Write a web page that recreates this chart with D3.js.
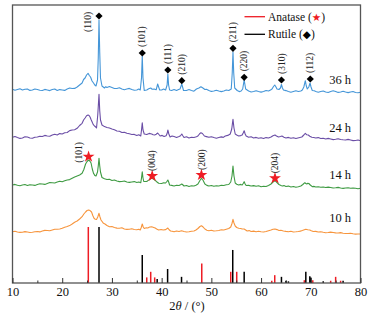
<!DOCTYPE html>
<html><head><meta charset="utf-8">
<script src="https://cdn.jsdelivr.net/npm/d3@7"></script>
<style>body{margin:0;background:#fff}svg{display:block}</style>
</head><body>
<svg id="chart" width="378" height="319"></svg>
<script>
// ---------- data (2θ in degrees, intensity in a.u., patterns already stacked) ----------
const sampleLabels = ["36 h", "24 h", "14 h", "10 h"];
const sampleColors = ["#4596d8", "#6b4ea6", "#3f9b43", "#f7953d"];

const pattern36h = [[10,193.7],[10.5,192.8],[11,193.5],[11.5,194.2],[12,193],[12.5,193.8],[13,194],[13.5,192.6],[14,193],[14.5,194],[15,193.5],[15.5,192.8],[16,192.5],[16.5,193.6],[17,193],[17.5,192.4],[18,193.5],[18.5,194],[19,192.5],[19.5,193.4],[20,193],[20.5,192.6],[21,194],[21.5,195],[22,194.5],[22.5,194.6],[23,196],[23.5,198],[24,200],[24.3,203.5],[24.6,205],[24.9,208],[25.2,209.7],[25.45,207.5],[25.7,206],[26,202],[26.3,200],[26.55,198],[26.8,197],[27.1,203],[27.25,225],[27.4,263],[27.55,230],[27.7,205],[28,197],[28.25,196],[28.5,195],[28.75,196.3],[29,195.5],[29.5,196.5],[30,195.5],[30.5,194.5],[31,194.5],[31.5,195.2],[32,194],[32.5,193.3],[33,194],[33.5,194.6],[34,193.5],[34.5,192.8],[35,193],[35.4,194],[35.7,193],[35.95,205],[36.1,227],[36.25,205],[36.5,192.5],[37,193],[37.4,194.2],[37.8,195],[38.1,193.8],[38.5,194],[38.9,193.2],[39.2,199],[39.6,193],[40,193],[40.4,194],[40.8,193],[41.1,198],[41.25,209],[41.4,198],[41.6,193],[42,192.5],[42.5,193.5],[43,192.5],[43.4,193.4],[43.7,194],[44.05,199],[44.4,192.5],[45,192.5],[45.5,193.4],[46,192.5],[46.5,191.8],[47,194],[47.5,195],[47.9,196.3],[48.3,195],[48.7,193.5],[49,193.8],[49.5,192.5],[50,191.6],[50.5,192],[51,192.8],[51.5,192],[52,191.4],[52.5,192],[53,193],[53.5,192.5],[54,194],[54.2,210],[54.35,231],[54.5,210],[54.7,195],[55.2,192.5],[55.6,191.4],[56,192],[56.3,194],[56.6,203],[56.9,194],[57.2,193],[57.5,192],[58,191],[58.5,191.5],[59,192.3],[59.5,191.5],[60,190.9],[60.5,191.5],[61,192.5],[61.5,192],[61.9,193],[62.2,194],[62.5,196.5],[62.75,198],[63,196],[63.2,194],[63.6,193.5],[63.9,195],[64.1,198.5],[64.3,195],[64.5,193],[65,192.4],[65.5,191.5],[66,190.8],[66.5,191.5],[67,192.2],[67.5,191.5],[68,192],[68.3,193],[68.6,196],[68.9,202.3],[69.1,197],[69.3,194],[69.6,196],[69.85,200],[70.05,196],[70.3,192.5],[70.7,192.2],[71,191.5],[71.5,190.8],[72,191.5],[72.5,192],[73,191],[73.5,190.5],[74,191.5],[74.5,192.2],[75,191.5],[75.5,190.6],[76,191],[76.5,191.7],[77,191],[77.5,190.4],[78,191],[78.5,191.5],[79,190.5],[79.5,190.2],[80,190.7]];

const pattern24h = [[10,145.7],[10.5,146.5],[11,145.5],[11.5,144.6],[12,145],[12.5,146.2],[13,146],[13.5,145],[14,144.7],[14.5,145.8],[15,146],[15.5,146.8],[16,146.5],[16.5,147.6],[17,147],[17.5,146.8],[18,148],[18.5,148.8],[19,148],[19.5,149.4],[20,149],[20.5,150.2],[21,150.5],[21.5,152.4],[22,153],[22.5,153.2],[23,154.7],[23.5,157.5],[24,159.7],[24.3,163],[24.6,165],[24.9,167.2],[25.2,168],[25.4,167.5],[25.6,166],[25.8,163.5],[26,161.3],[26.25,158.4],[26.5,157],[26.7,156.2],[26.9,155],[27.15,168],[27.4,188.7],[27.55,172],[27.7,163],[28,158],[28.5,156.4],[29,155.5],[29.5,155],[30,154],[30.5,153.2],[31,152],[31.5,151.8],[32,150.5],[32.5,150.8],[33,149.7],[33.5,149.2],[34,148.5],[34.5,148.6],[35,147.5],[35.4,148.2],[35.8,147],[35.95,153],[36.1,160.3],[36.25,153],[36.5,149],[37,148.5],[37.5,149.6],[38,149],[38.3,148.2],[38.6,148],[38.9,148.8],[39.2,150],[39.7,147],[40.1,147.6],[40.5,146.5],[40.9,147.2],[41.1,149.5],[41.25,153],[41.45,149],[41.7,146],[42.1,147],[42.5,146.5],[43,145.6],[43.5,146.5],[43.8,147.3],[44.05,149],[44.3,147],[44.5,145.5],[45,146.2],[45.5,145],[46,145.8],[46.5,145.5],[47,146.2],[47.3,147],[47.6,149],[47.9,150.3],[48.2,149.5],[48.6,147],[49,146.4],[49.5,145.7],[50,146.3],[50.5,145.5],[51,144.8],[51.5,145.5],[52,146.1],[52.4,145.6],[52.8,147],[53.3,147.6],[53.8,149],[54.1,154],[54.35,163.7],[54.55,155],[54.8,149],[55.1,148],[55.5,147],[55.9,147.4],[56.2,148],[56.4,150],[56.6,152.3],[56.8,149],[57,147],[57.5,145.7],[58,146.2],[58.5,145],[59,145.6],[59.5,144.7],[60,145.3],[60.5,144.5],[61,145.4],[61.5,145],[62,146],[62.4,147.3],[62.8,148],[63.1,147],[63.5,146],[63.9,146.5],[64.2,147],[64.6,145.8],[65,145],[65.5,145.6],[66,144.7],[66.5,145.3],[67,144.5],[67.6,145.3],[68.2,146],[68.6,148],[68.9,149.7],[69.2,148.2],[69.5,148],[69.8,146.8],[70.2,145.7],[70.6,145.5],[71,145],[71.5,145.4],[72,144.5],[72.5,144.8],[73,144],[73.5,144.6],[74,144],[74.5,143.4],[75,143.7],[75.5,144.2],[76,143.5],[76.5,143.2],[77,143],[77.5,143.6],[78,143],[78.5,142.4],[79,142.5],[79.5,143],[80,142.3]];

const pattern14h = [[10,98],[10.5,98.6],[11,97.7],[11.5,97.3],[12,98],[12.5,98.5],[13,97.5],[13.5,98.3],[14,98],[14.5,97.6],[15,98.5],[15.5,99.2],[16,99],[16.5,98.6],[17,99.5],[17.5,100.4],[18,100.3],[18.5,100],[19,101],[19.5,101.8],[20,101.3],[20.5,102.2],[21,103],[21.5,103.4],[22,104.7],[22.5,106],[23,107],[23.5,108],[24,109.7],[24.35,113.5],[24.7,119],[25,121.5],[25.3,123],[25.55,122],[25.8,120],[26.05,114],[26.3,109.7],[26.55,107.6],[26.8,107],[27.1,111],[27.25,117],[27.4,124.7],[27.55,117],[27.7,111],[28,105.5],[28.5,104.2],[29,103.5],[29.5,103.7],[30,102.5],[30.5,103],[31,102],[31.5,101.4],[32,101.5],[32.5,102],[33,101],[33.5,100.6],[34,101],[34.5,101.4],[35,100.5],[35.4,101],[35.8,100.3],[35.95,105],[36.1,111.3],[36.25,105],[36.4,101.5],[37,101.5],[37.3,102.6],[37.6,103.5],[37.85,104.8],[38.1,104.5],[38.35,104],[38.6,103],[39,101.3],[39.4,99.7],[40,99.5],[40.4,100.2],[40.8,100],[41.05,101.5],[41.25,103],[41.45,100.5],[41.6,98],[42,97.6],[42.5,97],[43,97.8],[43.5,97.5],[43.8,98.2],[44.05,99],[44.3,98],[44.5,97],[45,97.5],[45.5,96.5],[46,97.2],[46.5,97],[46.9,97.8],[47.3,99],[47.7,102.5],[48,104.7],[48.3,103],[48.7,99],[49.1,97.6],[49.5,97],[50,97.5],[50.5,96.7],[51,97.3],[51.5,97],[52,97.8],[52.5,97.5],[53,98.2],[53.5,98.5],[53.9,101],[54.15,107],[54.35,117],[54.55,107],[54.8,100],[55.1,98.8],[55.5,98],[55.9,98.6],[56.2,98],[56.4,99.5],[56.6,101.3],[56.8,99],[57,97.5],[57.5,97.6],[58,97],[58.5,97.4],[59,96.7],[59.5,97.2],[60,96.3],[60.5,96.8],[61,96.5],[61.5,97.6],[62,99],[62.4,101],[62.8,102.3],[63.2,100.5],[63.6,98.5],[64,97.6],[64.3,97],[64.6,97.4],[65,96.5],[65.5,96.9],[66,96],[66.5,96.5],[67,95.7],[67.5,96.2],[68,97],[68.4,98.5],[68.8,100.3],[69,99.5],[69.2,99],[69.4,99.8],[69.6,99.5],[69.9,98],[70.3,96.3],[70.6,96.6],[71,96],[71.5,96.3],[72,95.7],[72.5,96],[73,95.5],[73.5,95.9],[74,95.5],[74.5,95],[75,95.2],[75.5,95.6],[76,95],[76.5,94.6],[77,95],[77.5,95.3],[78,94.7],[78.5,94.9],[79,94.7],[79.5,94.3],[80,94.7]];

const pattern10h = [[10,51.3],[10.5,51.8],[11,51],[11.5,50.6],[12,50.7],[12.5,51.4],[13,51],[13.5,50.5],[14,50.7],[14.5,51.2],[15,51.5],[15.5,51.1],[16,52],[16.5,52.6],[17,52.5],[17.5,52.2],[18,53],[18.5,53.8],[19,53.7],[19.5,54],[20,54.7],[20.5,55.8],[21,56.5],[21.5,57.4],[22,59],[22.5,60.8],[23,62],[23.5,64],[24,66.3],[24.35,69],[24.7,71],[25,72.5],[25.3,73],[25.6,72.4],[25.9,71],[26.15,67.5],[26.4,64.7],[26.65,63.8],[26.9,63.5],[27.15,66],[27.4,69.7],[27.6,66],[27.8,63],[28.3,59.7],[28.6,59],[29,57.5],[29.5,56.3],[30,56.5],[30.5,55.5],[31,54.9],[31.5,54.7],[32,55.2],[32.5,54],[33,53.6],[33.5,53.7],[34,54.2],[34.5,53.5],[35,53.2],[35.4,53.8],[35.7,53],[35.9,55.5],[36.1,59],[36.3,56],[36.5,54.5],[36.9,55.2],[37.2,55],[37.6,56],[38,56.3],[38.4,55.6],[38.7,55],[39,54],[39.4,53],[39.9,53.5],[40.3,53],[40.8,53.4],[41.05,54.3],[41.25,55],[41.5,53.2],[41.8,52],[42.1,51.8],[42.5,51.3],[43,52],[43.5,51.5],[44,52.2],[44.5,51.5],[45,51],[45.5,51.3],[46,51.8],[46.5,52],[46.9,53],[47.3,54.5],[47.7,56.5],[48,57.3],[48.3,56.2],[48.7,54],[49.1,52.8],[49.5,52.3],[50,52.8],[50.5,52],[51,52.2],[51.5,52.5],[52,53.2],[52.5,53],[53,53.8],[53.5,54.5],[53.9,56],[54.15,59.5],[54.35,63.7],[54.55,60],[54.8,57],[55.1,55.5],[55.5,54.7],[55.9,54.5],[56.2,54],[56.6,54],[56.9,53],[57.2,52],[57.6,52.4],[58,51.5],[58.5,51.9],[59,51.3],[59.5,51.8],[60,51.3],[60.5,51],[61,51.5],[61.5,52.3],[62,53],[62.4,53.8],[62.8,54],[63.2,53.4],[63.6,52.5],[64,52.7],[64.5,52],[65,51.6],[65.5,51.3],[66,51.7],[66.5,51],[67,51.2],[67.5,51.5],[67.9,51.9],[68.3,52.5],[68.7,53.2],[69,53.7],[69.4,53.2],[69.8,53],[70.1,52.3],[70.5,51.5],[71,51.6],[71.5,51],[72,51.3],[72.5,50.7],[73,50.2],[73.5,50.5],[74,50.9],[74.5,50.5],[75,50.1],[75.5,50],[76,50.4],[76.5,49.8],[77,49.5],[77.5,49.5],[78,49.8],[78.5,49.2],[79,48.9],[79.5,49],[80,49]];

const patterns = [pattern36h, pattern24h, pattern14h, pattern10h];
const labelLevels = [199, 151, 104, 61];   // intensity level of the sample labels

// reference sticks (relative intensity, %)
const anataseTheta = [25.25, 37.0, 37.8, 38.6, 48.07, 53.9, 55.1, 62.15, 62.75, 68.7, 70.4, 74.0, 75.0, 76.0];
const anataseInt   = [100, 10, 20, 10, 35, 20, 20, 4, 14, 5, 5, 4, 11, 4];
const rutileTheta  = [27.4, 36.1, 39.1, 41.2, 44.0, 54.3, 56.6, 64.1, 65.0, 65.5, 69.0, 69.8, 70.0, 72.5, 76.5];
const rutileInt    = [100, 50, 7, 25, 11, 59, 20, 11, 4, 3, 20, 12, 10, 3, 4];

// peak markers
const rutileHkl    = ["(110)", "(101)", "(111)", "(210)", "(211)", "(220)", "(310)", "(112)"];
const rutileMarkTheta = [27.4, 36.1, 41.25, 44.05, 54.35, 56.6, 64.1, 69.9];
const rutileMarkInt   = [267, 230, 213, 202.3, 234.7, 205.7, 203, 204];
const anataseHkl   = ["(101)", "(004)", "(200)", "(204)"];
const anataseMarkTheta = [25.3, 38.1, 48.0, 62.8];
const anataseMarkInt   = [126.3, 107, 108, 104.7];

const xTicks = [10, 20, 30, 40, 50, 60, 70, 80];
const xMinorTicks = [15, 25, 35, 45, 55, 65, 75];
const legendItems = [{name: "Anatase", sym: "\u2605", color: "#ee1c24"}, {name: "Rutile", sym: "\u25C6", color: "#000"}];

// ---------- drawing ----------
const svg = d3.select("#chart");
const L = 12.5, R = 360.5, T = 5, B = 283;
const x = d3.scaleLinear().domain([10, 80]).range([L, R]);
const y = d3.scaleLinear().domain([0, 278]).range([B, T]);
const yStick = d3.scaleLinear().domain([0, 100]).range([B, 227]);
const serif = "'Liberation Serif','Times New Roman',serif";

// sticks
const sticks = svg.append("g");
sticks.selectAll(".r").data(rutileTheta).join("line")
  .attr("x1", d => x(d)).attr("x2", d => x(d))
  .attr("y1", B).attr("y2", (d, i) => yStick(rutileInt[i]))
  .attr("stroke", "#000").attr("stroke-width", 1.5);
sticks.selectAll(".a").data(anataseTheta).join("line")
  .attr("x1", d => x(d)).attr("x2", d => x(d))
  .attr("y1", B).attr("y2", (d, i) => yStick(anataseInt[i]))
  .attr("stroke", "#ee1c24").attr("stroke-width", 1.5);

// patterns
const line = d3.line().x(d => x(d[0])).y(d => y(d[1]));
patterns.forEach((p, i) => {
  svg.append("path").datum(p).attr("d", line)
    .attr("fill", "none").attr("stroke", sampleColors[i]).attr("stroke-width", 1.1)
    .attr("stroke-linejoin", "round");
  svg.append("text").attr("x", 351).attr("y", y(labelLevels[i]))
    .attr("text-anchor", "end").attr("font-family", serif).attr("font-size", 12.5)
    .attr("fill", "#111").text(sampleLabels[i]);
});

// rutile diamonds + hkl labels
const diamond = d3.symbol().type(d3.symbolSquare).size(26);
rutileMarkTheta.forEach((t, i) => {
  const cx = x(t), cy = y(rutileMarkInt[i]);
  svg.append("path").attr("d", diamond()).attr("fill", "#000")
    .attr("transform", `translate(${cx},${cy}) rotate(45)`);
  let tx = cx, ty = cy - 6;
  if (i === 0) { tx = cx - 11; ty = cy + 16; }
  svg.append("text").attr("transform", `translate(${tx},${ty}) rotate(-90)`)
    .attr("dy", "0.33em").attr("text-anchor", "start")
    .attr("font-family", serif).attr("font-size", 9.5).attr("fill", "#222").text(rutileHkl[i]);
});

// anatase stars + hkl labels
const star = d3.symbol().type(d3.symbolStar).size(44);
anataseMarkTheta.forEach((t, i) => {
  const cx = x(t), cy = y(anataseMarkInt[i]);
  svg.append("path").attr("d", star()).attr("fill", "#ee1c24")
    .attr("transform", `translate(${cx},${cy})`);
  let tx = cx, ty = cy - 5;
  if (i === 0) { tx = cx - 10; ty = cy + 6; }
  svg.append("text").attr("transform", `translate(${tx},${ty}) rotate(-90)`)
    .attr("dy", "0.33em").attr("text-anchor", "start")
    .attr("font-family", serif).attr("font-size", 9.5).attr("fill", "#222").text(anataseHkl[i]);
});

// frame
svg.append("rect").attr("x", L).attr("y", T).attr("width", R - L).attr("height", B - T)
  .attr("fill", "none").attr("stroke", "#555").attr("stroke-width", 1.3);

// x axis (inward ticks)
const ax = svg.append("g").attr("transform", `translate(0,${B})`)
  .call(d3.axisBottom(x).tickValues(xTicks).tickSizeInner(-5).tickSizeOuter(0).tickPadding(4).tickFormat(d3.format("d")));
ax.select(".domain").remove();
ax.selectAll("line").attr("stroke", "#333");
ax.selectAll("text").attr("font-family", serif).attr("font-size", 12.5).attr("fill", "#111");
const axm = svg.append("g").attr("transform", `translate(0,${B})`)
  .call(d3.axisBottom(x).tickValues(xMinorTicks).tickSizeInner(-2.5).tickSizeOuter(0).tickFormat(""));
axm.select(".domain").remove();
axm.selectAll("line").attr("stroke", "#333");

// axis title
const title = svg.append("text").attr("x", 187).attr("y", 310).attr("text-anchor", "middle")
  .attr("font-family", serif).attr("font-size", 12.5).attr("fill", "#111");
title.append("tspan").text("2");
title.append("tspan").attr("font-style", "italic").text("\u03B8");
title.append("tspan").text(" / (\u00B0)");

// legend
legendItems.forEach((d, i) => {
  const ly = 16.7 + i * 17.6;
  svg.append("line").attr("x1", 244.5).attr("x2", 265).attr("y1", ly).attr("y2", ly)
    .attr("stroke", d.color).attr("stroke-width", 1.3);
  const t = svg.append("text").attr("x", 268).attr("y", ly).attr("dy", "0.35em")
    .attr("font-family", serif).attr("font-size", 11.5).attr("fill", "#111");
  t.append("tspan").text(d.name + " (");
  t.append("tspan").attr("fill", d.color).attr("font-family", "'DejaVu Sans',sans-serif").attr("font-size", 10.5).text(d.sym);
  t.append("tspan").text(")");
});
</script>
</body></html>
